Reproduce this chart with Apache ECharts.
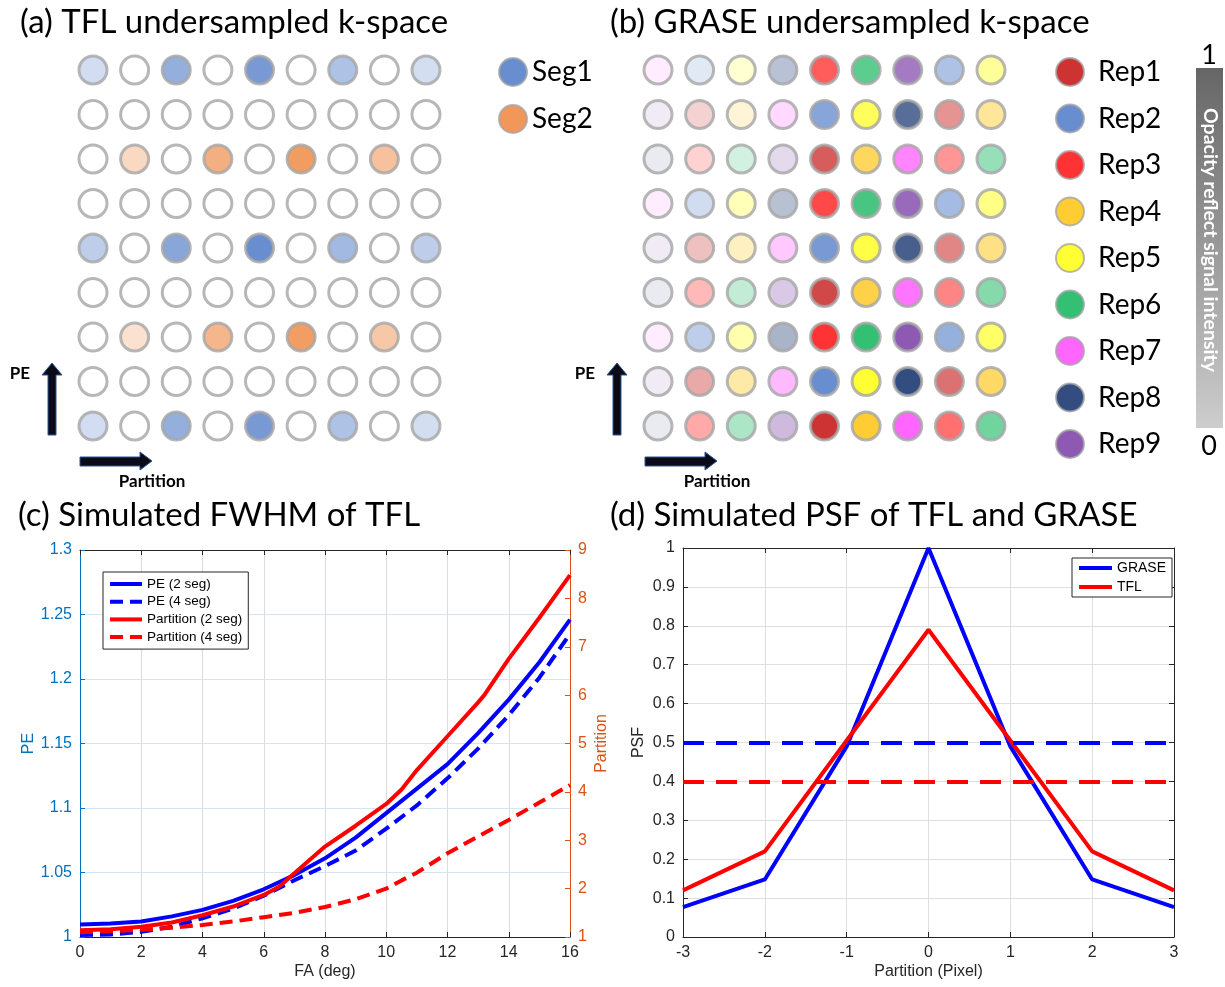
<!DOCTYPE html>
<html>
<head>
<meta charset="utf-8">
<script src="https://cdn.jsdelivr.net/npm/echarts@6/dist/echarts.min.js"></script>
<style>
  html, body { margin: 0; padding: 0; background: #fff; }
  #main { width: 1225px; height: 987px; }
</style>
</head>
<body>
<div id="main"></div>
<script>
var chart = echarts.init(document.getElementById('main'));

// ---- (a) TFL k-space: segment per row, opacity per cell (0 = not sampled)
var segColors = { 1: '#4472c4', 2: '#ed7d31' };
var tflRowSeg = [1, 0, 2, 0, 1, 0, 2, 0, 1];
var tflAlpha = [
    [0.30, 0, 0.71, 0, 0.90, 0, 0.54, 0, 0.29],
    [0, 0, 0, 0, 0, 0, 0, 0, 0],
    [0, 0.37, 0, 0.77, 0, 0.95, 0, 0.60, 0],
    [0, 0, 0, 0, 0, 0, 0, 0, 0],
    [0.44, 0, 0.79, 0, 1.00, 0, 0.62, 0, 0.44],
    [0, 0, 0, 0, 0, 0, 0, 0, 0],
    [0, 0.29, 0, 0.70, 0, 0.94, 0, 0.53, 0],
    [0, 0, 0, 0, 0, 0, 0, 0, 0],
    [0.30, 0, 0.71, 0, 0.90, 0, 0.54, 0, 0.29]
];

// ---- (b) GRASE k-space: repetition index and opacity per cell
var repNames = ['Rep1', 'Rep2', 'Rep3', 'Rep4', 'Rep5', 'Rep6', 'Rep7', 'Rep8', 'Rep9'];
var repColors = ['#c00000', '#4472c4', '#ff0000', '#ffc000', '#ffff00', '#00b050', '#ff40ff', '#002060', '#7030a0'];
var graseRep = [
    [7, 2, 5, 8, 3, 6, 9, 2, 5],
    [9, 1, 4, 7, 2, 5, 8, 1, 4],
    [8, 3, 6, 9, 1, 4, 7, 3, 6],
    [7, 2, 5, 8, 3, 6, 9, 2, 5],
    [9, 1, 4, 7, 2, 5, 8, 1, 4],
    [8, 3, 6, 9, 1, 4, 7, 3, 6],
    [7, 2, 5, 8, 3, 6, 9, 2, 5],
    [9, 1, 4, 7, 2, 5, 8, 1, 4],
    [8, 3, 6, 9, 1, 4, 7, 3, 6]
];
var graseAlpha = [
    [0.12, 0.20, 0.22, 0.34, 0.80, 0.80, 0.80, 0.54, 0.50],
    [0.12, 0.22, 0.20, 0.25, 0.80, 0.80, 0.82, 0.53, 0.50],
    [0.11, 0.22, 0.22, 0.23, 0.80, 0.80, 0.80, 0.52, 0.51],
    [0.12, 0.31, 0.34, 0.35, 0.90, 0.90, 0.90, 0.60, 0.60],
    [0.12, 0.31, 0.30, 0.35, 0.90, 0.90, 0.90, 0.60, 0.60],
    [0.11, 0.34, 0.30, 0.33, 0.90, 0.90, 0.90, 0.60, 0.60],
    [0.12, 0.44, 0.40, 0.42, 1.00, 1.00, 1.00, 0.70, 0.75],
    [0.12, 0.42, 0.43, 0.45, 1.00, 1.00, 1.00, 0.70, 0.75],
    [0.11, 0.42, 0.40, 0.42, 1.00, 1.00, 1.00, 0.70, 0.70]
];

// ---- (c) simulated FWHM of TFL
var faX = [0, 1, 2, 3, 4, 5, 6, 7, 8, 9, 10, 11, 12, 13, 14, 15, 16];
var pe2seg = [1.0097, 1.0104, 1.012, 1.016, 1.021, 1.028, 1.037, 1.048, 1.061, 1.077, 1.096, 1.115, 1.134, 1.158, 1.184, 1.213, 1.246];
var pe4seg = [1.0015, 1.002, 1.004, 1.008, 1.0145, 1.022, 1.032, 1.044, 1.055, 1.067, 1.084, 1.102, 1.123, 1.146, 1.172, 1.201, 1.235];
var partX2 = [0, 1, 2, 3, 4, 5, 6, 6.5, 7, 8, 9, 10, 10.5, 11, 12, 13, 13.2, 14, 15, 16];
var part2seg = [1.14, 1.16, 1.21, 1.30, 1.45, 1.63, 1.87, 2.04, 2.32, 2.87, 3.30, 3.75, 4.05, 4.45, 5.15, 5.85, 6.0, 6.75, 7.6, 8.48];
var partX4 = [0, 1, 2, 3, 4, 5, 6, 7, 8, 9, 10, 10.5, 11, 12, 13, 14, 15, 16];
var part4seg = [1.10, 1.12, 1.15, 1.19, 1.25, 1.32, 1.41, 1.50, 1.62, 1.78, 2.0, 2.17, 2.33, 2.73, 3.08, 3.42, 3.78, 4.14];

// ---- (d) simulated PSF
var pixX = [-3, -2, -1, 0, 1, 2, 3];
var psfGrase = [0.077, 0.148, 0.49, 1.0, 0.49, 0.148, 0.077];
var psfTfl = [0.12, 0.22, 0.505, 0.79, 0.505, 0.22, 0.12];
var halfMax = [0.5, 0.395];

function mixWhite(hex, a) {
    var r = parseInt(hex.substr(1, 2), 16), g = parseInt(hex.substr(3, 2), 16), b = parseInt(hex.substr(5, 2), 16);
    function m(c) { return Math.round(255 + (c - 255) * a); }
    return 'rgb(' + m(r) + ',' + m(g) + ',' + m(b) + ')';
}
function pairs(xs, ys) { return xs.map(function (x, i) { return [x, ys[i]]; }); }

var ring = { borderColor: '#a5a5a5', borderWidth: 3 };
var dotSize = 28;
var series = [];

// panel (a) cells
var emptyA = [], segData = { 1: [], 2: [] };
tflAlpha.forEach(function (row, r) {
    row.forEach(function (a, c) {
        if (a > 0) {
            var s = tflRowSeg[r];
            segData[s].push({ value: [c, r], itemStyle: { color: mixWhite(segColors[s], a) } });
        } else {
            emptyA.push([c, r]);
        }
    });
});
series.push({ name: 'emptyA', type: 'scatter', xAxisIndex: 0, yAxisIndex: 0, symbolSize: dotSize,
    itemStyle: Object.assign({ color: '#fff' }, ring), data: emptyA, silent: true });
[1, 2].forEach(function (s) {
    series.push({ name: 'Seg' + s, type: 'scatter', xAxisIndex: 0, yAxisIndex: 0, symbolSize: dotSize,
        itemStyle: Object.assign({ color: segColors[s] }, ring), data: segData[s], silent: true });
});

// panel (b) cells
repNames.forEach(function (name, k) {
    var d = [];
    graseRep.forEach(function (row, r) {
        row.forEach(function (rep, c) {
            if (rep === k + 1) d.push({ value: [c, r], itemStyle: { color: mixWhite(repColors[k], graseAlpha[r][c]) } });
        });
    });
    series.push({ name: name, type: 'scatter', xAxisIndex: 1, yAxisIndex: 1, symbolSize: dotSize,
        itemStyle: Object.assign({ color: repColors[k] }, ring), data: d, silent: true });
});

// panel (c) lines
var dashC = [13, 7];
series.push(
    { name: 'PE (2 seg)', type: 'line', xAxisIndex: 2, yAxisIndex: 2, symbol: 'none', data: pairs(faX, pe2seg),
      lineStyle: { color: '#0000ff', width: 4 }, itemStyle: { color: '#0000ff' } },
    { name: 'PE (4 seg)', type: 'line', xAxisIndex: 2, yAxisIndex: 2, symbol: 'none', data: pairs(faX, pe4seg),
      lineStyle: { color: '#0000ff', width: 4, type: dashC }, itemStyle: { color: '#0000ff' } },
    { name: 'Partition (2 seg)', type: 'line', xAxisIndex: 2, yAxisIndex: 3, symbol: 'none', data: pairs(partX2, part2seg),
      lineStyle: { color: '#ff0000', width: 4 }, itemStyle: { color: '#ff0000' } },
    { name: 'Partition (4 seg)', type: 'line', xAxisIndex: 2, yAxisIndex: 3, symbol: 'none', data: pairs(partX4, part4seg),
      lineStyle: { color: '#ff0000', width: 4, type: dashC }, itemStyle: { color: '#ff0000' } }
);

// panel (d) lines with half-maximum levels
var dashD = [21, 12];
series.push(
    { name: 'GRASE', type: 'line', xAxisIndex: 4, yAxisIndex: 4, symbol: 'none', data: pairs(pixX, psfGrase),
      lineStyle: { color: '#0000ff', width: 4 }, itemStyle: { color: '#0000ff' },
      markLine: { silent: true, symbol: 'none', label: { show: false },
          lineStyle: { color: '#0000ff', width: 4, type: dashD }, data: [{ yAxis: halfMax[0] }] } },
    { name: 'TFL', type: 'line', xAxisIndex: 4, yAxisIndex: 4, symbol: 'none', data: pairs(pixX, psfTfl),
      lineStyle: { color: '#ff0000', width: 4 }, itemStyle: { color: '#ff0000' },
      markLine: { silent: true, symbol: 'none', label: { show: false },
          lineStyle: { color: '#ff0000', width: 4, type: dashD }, data: [{ yAxis: halfMax[1] }] } }
);

var axFont = 'Liberation Sans';
var ink = '#262626';
function hiddenAxis(grid, inverse) {
    return { gridIndex: grid, type: 'value', min: -0.5, max: 8.5, show: false, inverse: !!inverse };
}
function boxAxis(grid, pos, min, max, interval, color, extra) {
    return Object.assign({
        gridIndex: grid, type: 'value', position: pos, min: min, max: max, interval: interval,
        axisLine: { show: true, onZero: false, lineStyle: { color: color, width: 1 } },
        axisTick: { show: true, inside: true, length: 5, lineStyle: { color: color } },
        axisLabel: { show: true, color: color, fontFamily: axFont, fontSize: 16, margin: 8 },
        splitLine: { show: false }
    }, extra || {});
}

// hand-drawn arrows for "PE" and "Partition" directions (a) and (b)
function arrows(dx) {
    var fill = '#0b0b18', edge = '#2e5597';
    return [
        { type: 'polygon', shape: { points: [[48 + dx, 435], [56 + dx, 435], [56 + dx, 375], [62 + dx, 375], [52 + dx, 363], [42 + dx, 375], [48 + dx, 375]] },
          style: { fill: fill, stroke: edge, lineWidth: 1 } },
        { type: 'polygon', shape: { points: [[80 + dx, 457], [140 + dx, 457], [140 + dx, 452], [152 + dx, 461], [140 + dx, 470], [140 + dx, 466], [80 + dx, 466]] },
          style: { fill: fill, stroke: edge, lineWidth: 1 } },
        { type: 'text', x: 20 + dx, y: 374, style: { text: 'PE', fontFamily: 'Lato', fontWeight: 'bold', fontSize: 17, fill: '#000', align: 'center', verticalAlign: 'middle' } },
        { type: 'text', x: 152 + dx, y: 482, style: { text: 'Partition', fontFamily: 'Lato', fontWeight: 'bold', fontSize: 17, fill: '#000', align: 'center', verticalAlign: 'middle' } }
    ];
}
function title(x, y, t) {
    return { type: 'text', x: x, y: y, style: { text: t, fontFamily: 'Lato', fontSize: 33, fill: '#000', verticalAlign: 'middle' } };
}
var lineLegendIcon = { color: 'transparent', borderWidth: 0, opacity: 0 };

var option = {
    animation: false,
    backgroundColor: '#fff',
    grid: [
        { left: 72.2, top: 47.75, width: 374.6, height: 400.5 },
        { left: 637.2, top: 47.75, width: 374.6, height: 400.5 },
        { left: 80, top: 550, width: 490, height: 387 },
        { left: 683, top: 548, width: 491, height: 389 }
    ],
    xAxis: [
        hiddenAxis(0), hiddenAxis(1),
        boxAxis(2, 'bottom', 0, 16, 2, ink, {
            name: 'FA (deg)', nameLocation: 'middle', nameGap: 27,
            nameTextStyle: { color: ink, fontFamily: axFont, fontSize: 16 },
            splitLine: { show: true, lineStyle: { color: '#dcdcdc' } } }),
        boxAxis(2, 'top', 0, 16, 2, ink, { axisLabel: { show: false } }),
        boxAxis(3, 'bottom', -3, 3, 1, ink, {
            name: 'Partition (Pixel)', nameLocation: 'middle', nameGap: 27,
            nameTextStyle: { color: ink, fontFamily: axFont, fontSize: 16 },
            splitLine: { show: true, lineStyle: { color: '#dfdfdf' } } }),
        boxAxis(3, 'top', -3, 3, 1, ink, { axisLabel: { show: false } })
    ],
    yAxis: [
        hiddenAxis(0, true), hiddenAxis(1, true),
        boxAxis(2, 'left', 1, 1.3, 0.05, '#0072bd', {
            name: 'PE', nameLocation: 'middle', nameGap: 42, nameRotate: 90,
            nameTextStyle: { color: '#0072bd', fontFamily: axFont, fontSize: 16 },
            splitLine: { show: true, lineStyle: { color: '#d5e5f1' } } }),
        boxAxis(2, 'right', 1, 9, 1, '#d95319', {
            name: 'Partition', nameLocation: 'middle', nameGap: 24, nameRotate: 90,
            nameTextStyle: { color: '#d95319', fontFamily: axFont, fontSize: 16 } }),
        boxAxis(3, 'left', 0, 1, 0.1, ink, {
            name: 'PSF', nameLocation: 'middle', nameGap: 36, nameRotate: 90,
            nameTextStyle: { color: ink, fontFamily: axFont, fontSize: 16 },
            splitLine: { show: true, lineStyle: { color: '#dfdfdf' } } }),
        boxAxis(3, 'right', 0, 1, 0.1, ink, { axisLabel: { show: false } })
    ],
    legend: [
        { data: ['Seg1', 'Seg2'], orient: 'vertical', left: 498, top: 57, padding: 0,
          icon: 'circle', itemWidth: 28, itemHeight: 28, itemGap: 17, selectedMode: false,
          textStyle: { fontFamily: 'Lato', fontSize: 28, color: '#000' } },
        { data: repNames, orient: 'vertical', left: 1055, top: 57, padding: 0,
          icon: 'circle', itemWidth: 28, itemHeight: 28, itemGap: 16.5, selectedMode: false,
          textStyle: { fontFamily: 'Lato', fontSize: 28, color: '#000', padding: [0, 0, 0, 9] } },
        { data: ['PE (2 seg)', 'PE (4 seg)', 'Partition (2 seg)', 'Partition (4 seg)'],
          orient: 'vertical', left: 103, top: 572, padding: [5, 6, 5, 5],
          itemWidth: 32, itemHeight: 14, itemGap: 3.7, selectedMode: false,
          backgroundColor: '#fff', borderColor: ink, borderWidth: 1,
          itemStyle: lineLegendIcon, lineStyle: { width: 4 },
          textStyle: { fontFamily: axFont, fontSize: 13.5, color: '#000' } },
        { data: ['GRASE', 'TFL'], orient: 'vertical', left: 1072, top: 558, padding: [3, 6, 3, 5],
          itemWidth: 33, itemHeight: 14, itemGap: 5, selectedMode: false,
          backgroundColor: '#fff', borderColor: ink, borderWidth: 1,
          itemStyle: lineLegendIcon, lineStyle: { width: 4 },
          textStyle: { fontFamily: axFont, fontSize: 14, color: '#000' } }
    ],
    graphic: [
        title(20, 22, '(a) TFL undersampled k-space'),
        title(610, 22, '(b) GRASE undersampled k-space'),
        title(18, 515, '(c) Simulated FWHM of TFL'),
        title(610, 515, '(d) Simulated PSF of TFL and GRASE'),
        { type: 'rect', shape: { x: 1196, y: 68, width: 27, height: 360 },
          style: { fill: new echarts.graphic.LinearGradient(0, 0, 0, 1, [
              { offset: 0, color: '#666666' }, { offset: 1, color: '#cdcdcd' }]) } },
        { type: 'text', x: 1210, y: 240, rotation: -Math.PI / 2,
          style: { text: 'Opacity reflect signal intensity', fontFamily: 'Lato', fontWeight: 'bold', fontSize: 19.5,
                   fill: '#fff', align: 'center', verticalAlign: 'middle' } },
        { type: 'text', x: 1209, y: 55, style: { text: '1', fontFamily: 'Lato', fontSize: 27, fill: '#000', align: 'center', verticalAlign: 'middle' } },
        { type: 'text', x: 1209, y: 446, style: { text: '0', fontFamily: 'Lato', fontSize: 27, fill: '#000', align: 'center', verticalAlign: 'middle' } }
    ].concat(arrows(0), arrows(565)),
    series: series
};

chart.setOption(option);
</script>
</body>
</html>
